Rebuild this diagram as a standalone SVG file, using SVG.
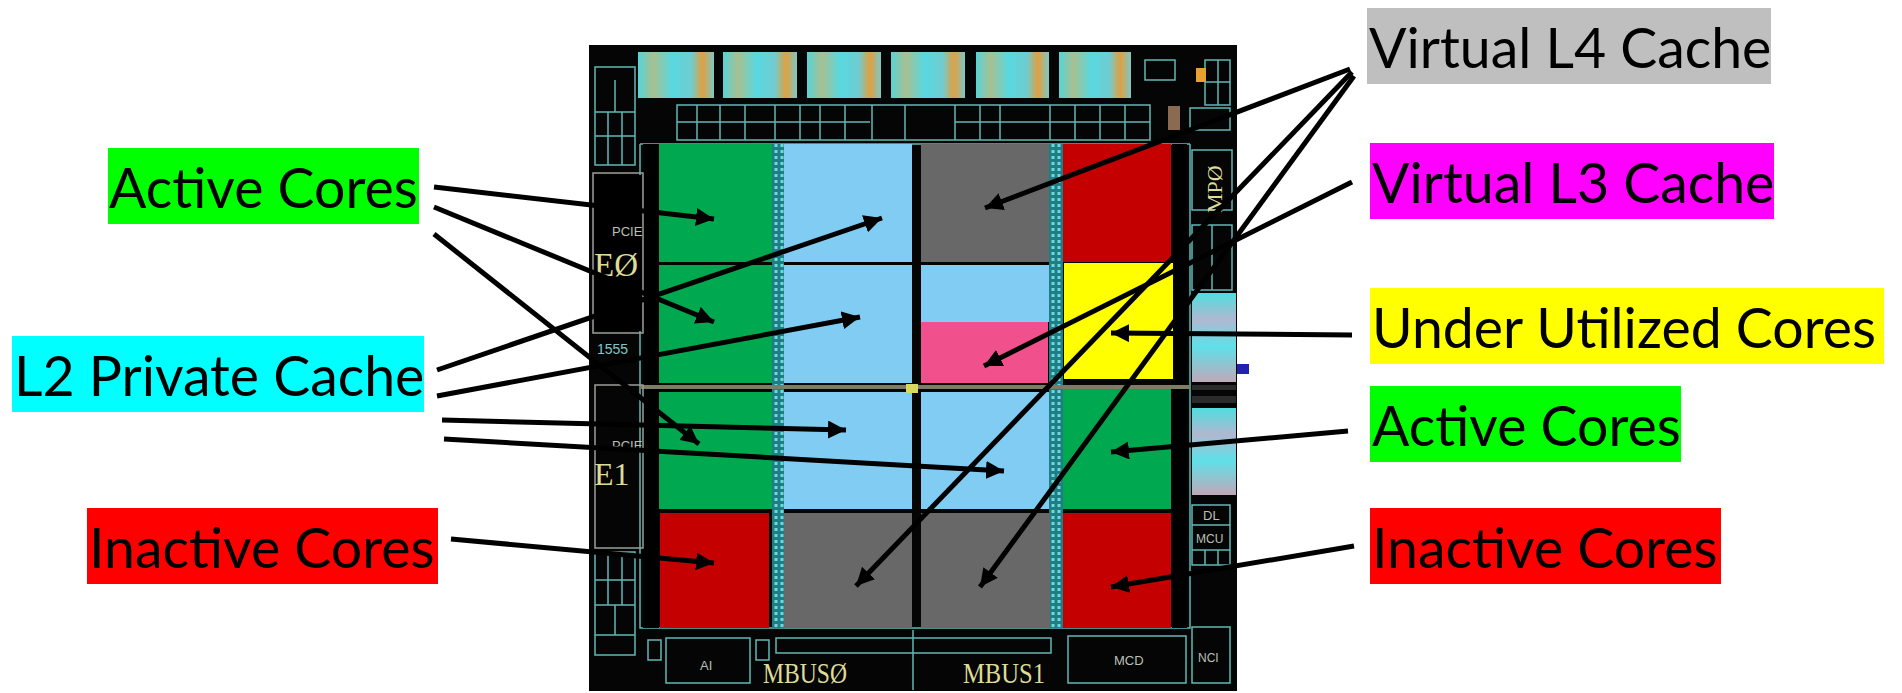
<svg xmlns="http://www.w3.org/2000/svg" width="1902" height="693" viewBox="0 0 1902 693">
<style>
.lbl{font-family:"Lato","Liberation Sans",sans-serif;font-size:55.4px;fill:#000}
.t{fill:none;stroke:#5fb8b4;stroke-width:1.5}
.g{fill:none;stroke:#9a9f98;stroke-width:1.5}
.grn{fill:#00a94f}.blu{fill:#80ccf2}.gry{fill:#686868}.red{fill:#c40000}
.strip{fill:#1f7d85}.dash{fill:none;stroke:#6fd8d8;stroke-width:3;stroke-dasharray:3 3}
.chiptxt{font-family:"Liberation Serif",serif;fill:#dcdc98}
.small{font-family:"Liberation Sans",sans-serif;font-size:13px;fill:#b8c0b8}
.a{stroke:#000;stroke-width:5;fill:none;marker-end:url(#ah)}
</style>
<defs>
<marker id="ah" markerUnits="userSpaceOnUse" markerWidth="20" markerHeight="18" refX="18" refY="9" orient="auto"><path d="M0 0L18 9L0 18z" fill="#000"/></marker>
<linearGradient id="tb" x1="0" x2="1" y1="0" y2="0"><stop offset="0" stop-color="#56d4d8"/><stop offset=".2" stop-color="#a8c090"/><stop offset=".45" stop-color="#58d8e0"/><stop offset=".7" stop-color="#70ccd0"/><stop offset=".85" stop-color="#e0a040"/><stop offset="1" stop-color="#7cc8c8"/></linearGradient>
<linearGradient id="st" x1="0" x2="0" y1="0" y2="1"><stop offset="0" stop-color="#4fdde0"/><stop offset=".3" stop-color="#b0b8d0"/><stop offset=".6" stop-color="#5fe0e8"/><stop offset="1" stop-color="#c0a8b8"/></linearGradient>
</defs>
<rect width="1902" height="693" fill="#fff"/>
<g id="chip">
<rect x="589" y="45" width="648" height="646" fill="#050505"/>
<g fill="url(#tb)">
<rect x="638" y="52" width="76" height="46"/><rect x="723" y="52" width="74" height="46"/><rect x="807" y="52" width="74" height="46"/><rect x="891" y="52" width="74" height="46"/><rect x="976" y="52" width="73" height="46"/><rect x="1059" y="52" width="72" height="46"/>
</g>
<path class="t" d="M677 105H1150V140H677ZM697 105V140M720 105V140M745 105V140M775 105V140M800 105V140M820 105V140M845 105V140M872 105V140M905 105V140M955 105V140M980 105V140M1000 105V140M1050 105V140M1075 105V140M1100 105V140M1125 105V140M677 122H870M955 122H1150"/>
<path class="t" d="M595 67H635V165H595ZM595 112H635M595 136H635M608 112V165M622 112V165M615 80V112"/>
<path class="t" d="M1145 60H1175V80H1145ZM1205 60H1230V105H1205ZM1218 60V105M1205 82H1230M1190 108H1230V130H1190ZM1192 150H1232V210H1192ZM1192 225H1232V290H1192ZM1212 225V290"/>
<rect x="1168" y="106" width="12" height="24" fill="#8a6a50"/>
<rect x="1196" y="68" width="10" height="14" fill="#e8a030"/>
<path class="t" d="M640 144H1190M640 144V628H1190V144"/>
<rect x="643" y="144" width="16" height="484" fill="#000"/>
<rect x="1172" y="144" width="15" height="484" fill="#000"/>
<rect class="grn" x="659" y="144" width="113" height="118"/>
<rect class="grn" x="659" y="265" width="113" height="118"/>
<rect class="grn" x="659" y="392" width="113" height="117"/>
<rect class="red" x="660" y="513" width="109" height="115"/>
<rect class="strip" x="772" y="144" width="12" height="484"/>
<rect class="strip" x="1049" y="144" width="14" height="484"/>
<path class="dash" d="M776 144V628M782 144V628M1053 144V628M1059 144V628"/>
<rect class="blu" x="784" y="144" width="128" height="118"/>
<rect class="blu" x="784" y="265" width="128" height="118"/>
<rect class="blu" x="784" y="392" width="128" height="117"/>
<rect class="gry" x="784" y="513" width="128" height="115"/>
<rect class="gry" x="921" y="144" width="128" height="118"/>
<rect class="blu" x="921" y="265" width="128" height="57"/>
<rect x="921" y="322" width="127" height="61" fill="#f0508c"/>
<rect class="blu" x="921" y="392" width="128" height="117"/>
<rect class="gry" x="921" y="513" width="129" height="115"/>
<rect class="red" x="1063" y="144" width="108" height="118"/>
<rect x="1064" y="263" width="109" height="116" fill="#ff0"/>
<rect class="grn" x="1063" y="389" width="108" height="120"/>
<rect class="red" x="1063" y="513" width="108" height="115"/>
<rect x="640" y="385" width="550" height="4" fill="#7d7d66"/>
<rect x="906" y="384" width="12" height="9" fill="#d8d860"/>
<rect class="g" x="593" y="173" width="50" height="160"/>
<rect x="595" y="175" width="46" height="156" fill="#000"/>
<text class="small" x="612" y="236">PCIE</text>
<text class="chiptxt" x="594" y="276" font-size="33">EØ</text>
<text class="small" x="597" y="354" style="fill:#7fc8c8;font-size:14px">1555</text>
<rect class="g" x="595" y="385" width="48" height="163"/>
<text class="small" x="612" y="450">PCIE</text>
<text class="chiptxt" x="594" y="485" font-size="32">E1</text>
<path class="t" d="M595 552H635V655H595ZM595 580H635M595 605H635M595 635H635M608 552V605M622 552V605M615 605V635"/>
<rect x="1192" y="293" width="44" height="89" fill="url(#st)"/>
<rect x="1192" y="408" width="44" height="87" fill="url(#st)"/>
<rect x="1237" y="364" width="12" height="10" fill="#2222b0"/>
<rect x="1192" y="385" width="44" height="5" fill="#2b2b2b"/>
<rect x="1192" y="396" width="44" height="7" fill="#2b2b2b"/>
<text class="chiptxt" x="0" y="0" font-size="22" transform="translate(1222 213) rotate(-90)">MPØ</text>
<path class="t" d="M1192 505H1230V525H1192ZM1192 525H1230V565H1192ZM1192 550H1230M1205 550V565M1218 550V565"/>
<text class="small" x="1203" y="520">DL</text>
<text class="small" x="1196" y="543" style="font-size:12px">MCU</text>
<path class="t" d="M666 638H750V683H666ZM776 638H1051V653H776ZM1068 636H1186V683H1068ZM1192 627H1230V683H1192ZM648 640H661V660H648ZM756 640H769V660H756ZM913 630V690"/>
<text class="small" x="700" y="670">AI</text>
<text class="small" x="1114" y="665">MCD</text>
<text class="small" x="1198" y="662" style="font-size:12px">NCI</text>
<text class="chiptxt" x="763" y="683" font-size="29" textLength="84" lengthAdjust="spacingAndGlyphs">MBUSØ</text>
<text class="chiptxt" x="963" y="683" font-size="29" textLength="82" lengthAdjust="spacingAndGlyphs">MBUS1</text>
</g>
<g id="connectors">
<path class="a" d="M434 187L714 219"/>
<path class="a" d="M434 207L714 322"/>
<path class="a" d="M434 234L699 444"/>
<path class="a" d="M437 370L882 218"/>
<path class="a" d="M437 396L860 317"/>
<path class="a" d="M442 420L846 430"/>
<path class="a" d="M444 439L1004 471"/>
<path class="a" d="M451 539L714 563"/>
<path class="a" d="M1350 69L985 208"/>
<path class="a" d="M1352 72L856 586"/>
<path class="a" d="M1354 76L980 587"/>
<path class="a" d="M1352 182L984 366"/>
<path class="a" d="M1352 335L1111 333"/>
<path class="a" d="M1348 431L1111 452"/>
<path class="a" d="M1354 546L1111 587"/>
</g>
<g id="label-active-left"><rect x="108" y="148" width="311" height="76" fill="#0f0"/><text class="lbl" x="109" y="208">Active Cores</text></g>
<g id="label-l2"><rect x="12" y="336" width="412" height="76" fill="#0ff"/><text class="lbl" x="14" y="396">L2 Private Cache</text></g>
<g id="label-inactive-left"><rect x="87" y="508" width="351" height="76" fill="#f00"/><text class="lbl" x="89" y="568">Inactive Cores</text></g>
<g id="label-l4"><rect x="1367" y="8" width="404" height="76" fill="#bfbfbf"/><text class="lbl" x="1369" y="68">Virtual L4 Cache</text></g>
<g id="label-l3"><rect x="1370" y="143" width="404" height="76" fill="#f0f"/><text class="lbl" x="1372" y="203">Virtual L3 Cache</text></g>
<g id="label-under"><rect x="1370" y="288" width="514" height="76" fill="#ff0"/><text class="lbl" x="1372" y="348">Under Utilized Cores</text></g>
<g id="label-active-right"><rect x="1370" y="386" width="311" height="76" fill="#0f0"/><text class="lbl" x="1372" y="446">Active Cores</text></g>
<g id="label-inactive-right"><rect x="1370" y="508" width="351" height="76" fill="#f00"/><text class="lbl" x="1372" y="568">Inactive Cores</text></g>
</svg>
